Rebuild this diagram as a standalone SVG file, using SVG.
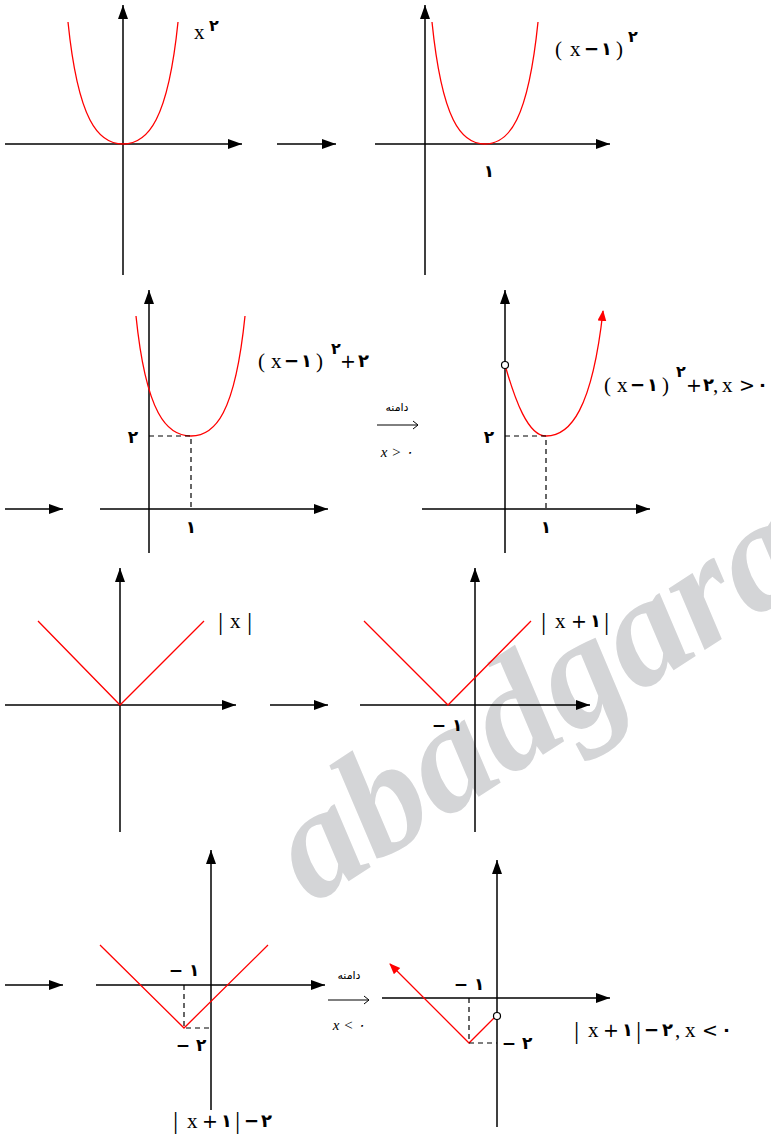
<svg xmlns="http://www.w3.org/2000/svg" width="771" height="1137" viewBox="0 0 771 1137">
<defs>
<marker id="ah" markerWidth="16" markerHeight="12" refX="14" refY="5" orient="auto" markerUnits="userSpaceOnUse">
<path d="M0,0 L14,5 L0,10 Z" fill="#000"/>
</marker>
<marker id="ahr" markerWidth="12" markerHeight="12" refX="10" refY="4.5" orient="auto" markerUnits="userSpaceOnUse">
<path d="M0,0 L11,4.5 L0,9 Z" fill="#f00"/>
</marker>
</defs>
<style>
.ax{stroke:#000;stroke-width:1.5;fill:none;marker-end:url(#ah)}
.cv{stroke:#f00;stroke-width:1.3;fill:none}
.ds{stroke:#000;stroke-width:1.2;stroke-dasharray:5,4;fill:none}
.t{font-family:"Liberation Serif","DejaVu Sans",serif;font-size:21px;fill:#000}
.d{font-family:"DejaVu Sans",sans-serif;font-size:18px;font-weight:bold;fill:#000}
.op{font-family:"DejaVu Sans",sans-serif;font-size:19px;fill:#000}
.n{font-family:"DejaVu Sans",sans-serif;font-size:17px;font-weight:bold;fill:#000}
.sup{font-family:"DejaVu Sans",sans-serif;font-size:16px;font-weight:bold}
.bar{font-family:"Liberation Serif",serif;font-size:26px;fill:#000}
.fa{font-family:"DejaVu Sans",sans-serif;font-size:11px;fill:#000}
.mi{font-family:"Liberation Serif","DejaVu Sans",serif;font-size:15px;font-style:italic;fill:#000}
.thin{stroke:#000;stroke-width:1;fill:none}
.wm{font-family:"Liberation Serif",serif;font-size:155px;font-weight:bold;font-style:italic;fill:#d4d5d7}
</style>
<text class="wm" transform="translate(312,905) rotate(-33)">abadgara</text>
<g id="connectors">
<line class="ax" x1="277" y1="144" x2="336" y2="144"/>
<line class="ax" x1="5" y1="509" x2="63" y2="509"/>
<line class="ax" x1="270" y1="705" x2="328" y2="705"/>
<line class="ax" x1="5" y1="985" x2="63" y2="985"/>
<g id="domain1">
<text class="fa" x="397" y="411" text-anchor="middle">دامنه</text>
<line class="thin" x1="377" y1="425" x2="418" y2="425"/>
<path class="thin" d="M413,421 L418,425 L413,429"/>
<text class="mi" x="397" y="457" text-anchor="middle">x &gt; ۰</text>
</g>
<g id="domain2">
<text class="fa" x="349" y="979" text-anchor="middle">دامنه</text>
<line class="thin" x1="328" y1="1000" x2="369" y2="1000"/>
<path class="thin" d="M364,996 L369,1000 L364,1004"/>
<text class="mi" x="349" y="1030" text-anchor="middle">x &lt; ۰</text>
</g>
</g>
<g id="graph1">
<line class="ax" x1="5" y1="144" x2="242" y2="144"/>
<line class="ax" x1="123" y1="275" x2="123" y2="5"/>
<path class="cv" d="M68,22 C78,120 98,144 123,144 C148,144 168,120 178,22"/>
<text class="t" x="194" y="39">x</text><text class="sup" x="209" y="31">۲</text>
</g>
<g id="graph2">
<line class="ax" x1="375" y1="144" x2="610" y2="144"/>
<line class="ax" x1="425" y1="275" x2="425" y2="5"/>
<path class="cv" d="M432,22 C442,120 461,144 485,144 C509,144 528,120 538,22"/>
<text class="n" x="489" y="177" text-anchor="middle">۱</text>
<text class="t" x="555" y="56">(</text><text class="t" x="570" y="56">x</text><text class="d" x="584" y="55">−</text><text class="d" x="601" y="55">۱</text><text class="t" x="616" y="56">)</text><text class="sup" x="628" y="42">۲</text>
</g>
<g id="graph3">
<line class="ax" x1="100" y1="509" x2="328" y2="509"/>
<line class="ax" x1="149" y1="553" x2="149" y2="290"/>
<path class="cv" d="M136,316 C146,414 167,436 191,436 C215,436 235,414 245,316"/>
<path class="ds" d="M149,436 H191 V509"/>
<text class="n" x="133" y="443" text-anchor="middle">۲</text>
<text class="n" x="191" y="533" text-anchor="middle">۱</text>
<text class="t" x="258" y="368">(</text><text class="t" x="271" y="368">x</text><text class="d" x="284" y="367">−</text><text class="d" x="301" y="367">۱</text><text class="t" x="316" y="368">)</text><text class="sup" x="331" y="354">۲</text><text class="op" x="340" y="368">+</text><text class="d" x="358" y="367">۲</text>
</g>
<g id="graph4">
<line class="ax" x1="422" y1="509" x2="650" y2="509"/>
<line class="ax" x1="505" y1="553" x2="505" y2="290"/>
<path class="cv" d="M505,365 C515,400 528,436 546,436 C570,436 592,410 603,311" marker-end="url(#ahr)"/>
<circle cx="505" cy="365" r="3.5" fill="#fff" stroke="#000" stroke-width="1.2"/>
<path class="ds" d="M505,436 H546 V509"/>
<text class="n" x="489" y="443" text-anchor="middle">۲</text>
<text class="n" x="546" y="533" text-anchor="middle">۱</text>
<text class="t" x="604" y="392">(</text><text class="t" x="617" y="392">x</text><text class="d" x="630" y="391">−</text><text class="d" x="647" y="391">۱</text><text class="t" x="662" y="392">)</text><text class="sup" x="676" y="377">۲</text><text class="op" x="686" y="392">+</text><text class="d" x="703" y="391">۲</text><text class="t" x="713" y="392">,</text><text class="t" x="722" y="392">x</text><text class="op" x="739" y="392">&gt;</text><text class="d" x="757" y="391">۰</text>
</g>
<g id="graph5">
<line class="ax" x1="5" y1="705" x2="236" y2="705"/>
<line class="ax" x1="120" y1="832" x2="120" y2="568"/>
<path class="cv" d="M38,621 L120,705 L204,621"/>
<text class="bar" x="218" y="630">|</text><text class="t" x="230" y="628">x</text><text class="bar" x="247" y="630">|</text>
</g>
<g id="graph6">
<line class="ax" x1="360" y1="705" x2="590" y2="705"/>
<line class="ax" x1="475" y1="832" x2="475" y2="568"/>
<path class="cv" d="M364,621 L448,705 L531,621"/>
<text class="n" x="447" y="731" text-anchor="middle">− ۱</text>
<text class="bar" x="541" y="630">|</text><text class="t" x="555" y="628">x</text><text class="op" x="571" y="628">+</text><text class="d" x="590" y="627">۱</text><text class="bar" x="604" y="630">|</text>
</g>
<g id="graph7">
<line class="ax" x1="96" y1="985" x2="325" y2="985"/>
<line class="ax" x1="211" y1="1110" x2="211" y2="850"/>
<path class="cv" d="M100,945 L184,1028 L268,945"/>
<path class="ds" d="M184,985 V1028 H210"/>
<text class="n" x="184" y="976" text-anchor="middle">− ۱</text>
<text class="n" x="191" y="1051" text-anchor="middle">− ۲</text>
<text class="bar" x="173" y="1129">|</text><text class="t" x="187" y="1128">x</text><text class="op" x="202" y="1128">+</text><text class="d" x="221" y="1127">۱</text><text class="bar" x="235" y="1129">|</text><text class="d" x="244" y="1127">−</text><text class="d" x="261" y="1127">۲</text>
</g>
<g id="graph8">
<line class="ax" x1="382" y1="998" x2="610" y2="998"/>
<line class="ax" x1="497" y1="1127" x2="497" y2="860"/>
<path class="cv" d="M494,1018 L469,1043 L390,964" marker-end="url(#ahr)"/>
<circle cx="497" cy="1016" r="3.5" fill="#fff" stroke="#000" stroke-width="1.2"/>
<path class="ds" d="M469,998 V1043 H497"/>
<text class="n" x="469" y="990" text-anchor="middle">− ۱</text>
<text class="n" x="517" y="1049" text-anchor="middle">− ۲</text>
<text class="bar" x="574" y="1039">|</text><text class="t" x="588" y="1037">x</text><text class="op" x="603" y="1037">+</text><text class="d" x="622" y="1036">۱</text><text class="bar" x="636" y="1039">|</text><text class="d" x="644" y="1036">−</text><text class="d" x="662" y="1036">۲</text><text class="t" x="675" y="1037">,</text><text class="t" x="685" y="1037">x</text><text class="op" x="702" y="1037">&lt;</text><text class="d" x="721" y="1036">۰</text>
</g>
</svg>
